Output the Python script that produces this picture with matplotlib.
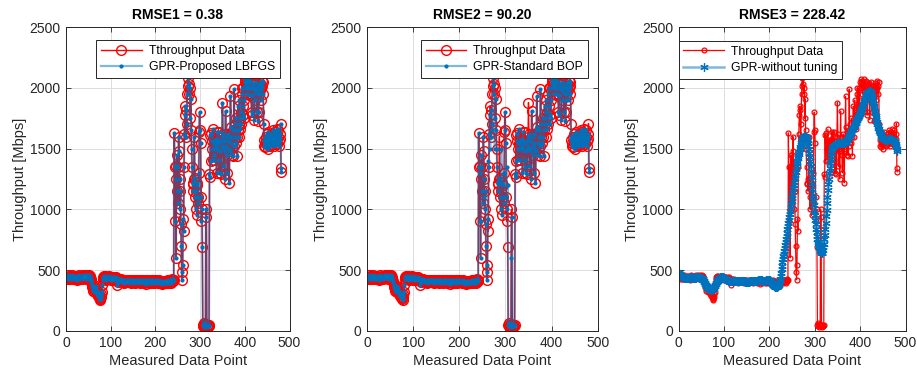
import numpy as np
import matplotlib
matplotlib.use('Agg')
import matplotlib.pyplot as plt

plt.rcParams['font.family'] = ['Liberation Sans', 'DejaVu Sans']

# measured throughput (Mbps), one value per measured data point
throughput = [
    460, 440, 430, 445, 455, 440, 425, 435, 450, 445, 430, 440, 455, 445, 435, 425, 440, 450, 445, 430,
    440, 450, 445, 430, 420, 435, 445, 455, 440, 430, 445, 450, 440, 435, 425, 440, 450, 455, 445, 435,
    440, 450, 460, 445, 430, 440, 455, 450, 440, 430, 445, 455, 450, 440, 425, 410, 400, 380, 360, 345,
    330, 360, 350, 320, 340, 370, 350, 330, 310, 300, 320, 290, 280, 300, 270, 260, 250, 280, 300, 320,
    380, 430, 445, 450, 440, 430, 445, 450, 440, 420, 430, 445, 440, 430, 425, 440, 450, 445, 435, 420,
    430, 440, 445, 435, 420, 430, 440, 425, 415, 430, 440, 435, 420, 410, 380, 400, 425, 430, 420, 410,
    415, 425, 420, 410, 400, 415, 420, 410, 405, 395, 410, 420, 415, 405, 400, 410, 420, 415, 405, 400,
    410, 420, 415, 405, 395, 405, 415, 420, 410, 400, 405, 415, 410, 400, 390, 405, 415, 420, 410, 400,
    405, 415, 410, 400, 395, 410, 420, 415, 405, 400, 410, 415, 405, 395, 400, 410, 420, 410, 400, 385,
    400, 410, 415, 405, 395, 405, 415, 410, 400, 390, 405, 415, 420, 410, 400, 395, 405, 415, 410, 400,
    405, 415, 410, 400, 390, 400, 410, 415, 405, 395, 400, 410, 405, 395, 385, 400, 410, 405, 395, 390,
    400, 410, 405, 395, 390, 400, 410, 420, 415, 405, 395, 410, 420, 415, 400, 395, 410, 430, 420, 410,
    420, 1630, 1350, 900, 1355, 600, 1250, 1450, 1150, 1350, 1050, 1600, 1480, 1250, 1000, 1150, 880, 700, 480, 420,
    540, 920, 820, 1350, 1620, 1780, 1850, 1820, 1600, 1700, 1950, 2020, 2080, 2200, 2030, 1950, 2000, 1750, 1910, 1650,
    1500, 1350, 1220, 1210, 1150, 1250, 1600, 1260, 1100, 1000, 1150, 1220, 950, 1200, 1100, 1050, 1300, 1640, 1800, 1650,
    1550, 1100, 900, 1000, 690, 50, 40, 60, 30, 45, 35, 55, 1000, 940, 40, 30, 50, 40, 35, 45,
    1290, 1270, 1616, 1400, 1630, 1560, 1500, 1410, 1660, 1550, 1450, 1410, 1500, 1560, 1580, 1520, 1300, 1640, 1575, 1550,
    1500, 1640, 1410, 1300, 1480, 1560, 1290, 1520, 1600, 1880, 1620, 1355, 1500, 1560, 1250, 1480, 1810, 1600, 1520, 1450,
    1300, 1560, 1620, 1500, 1220, 1480, 1600, 1930, 1680, 1550, 1450, 1600, 1650, 1440, 1520, 1990, 1700, 1600, 1650, 1550,
    1750, 1600, 1440, 1650, 1850, 1700, 1600, 1900, 1750, 1660, 1800, 1700, 1950, 2000, 1850, 1780, 2000, 1750, 1900, 2050,
    2070, 2000, 2030, 2060, 1950, 2040, 2020, 2070, 2000, 1940, 2050, 2060, 1940, 2000, 1800, 1780, 1940, 2030, 2000, 2040,
    1740, 1900, 1980, 2050, 2000, 1960, 1800, 2000, 2020, 1725, 1800, 1950, 2040, 2000, 1980, 1900, 2000, 2060, 2020, 1950,
    2050, 1700, 1575, 1520, 1550, 1510, 1600, 1560, 1620, 1540, 1500, 1580, 1640, 1560, 1530, 1600, 1520, 1570, 1620, 1580,
    1540, 1600, 1650, 1560, 1520, 1580, 1640, 1600, 1550, 1620, 1660, 1580, 1540, 1600, 1650, 1560, 1520, 1580, 1620, 1707,
    1340, 1310,
]

# GPR with proposed LBFGS tuning (RMSE 0.38): lies on the measured data
gpr_lbfgs = list(throughput)

# GPR with standard BOP: follows the data except at these points
bop_idx = [244, 246, 252, 262, 266, 270, 276, 286, 290, 297, 302, 304, 312,
           322, 330, 341, 349, 361, 366, 378, 386, 396, 409, 430, 441, 479]
bop_val = [1300, 900, 1100, 1400, 1500, 1650, 1500, 1250, 1500, 1300, 1350, 1200, 600,
           1300, 1500, 1350, 1500, 1550, 1650, 1550, 1800, 1700, 1950, 1900, 1600, 1600]
gpr_bop = list(throughput)
for i, v in zip(bop_idx, bop_val):
    gpr_bop[i] = v

# GPR without tuning (RMSE 228.42)
gpr_notune = [
    475, 470, 465, 460, 456, 452, 449, 446, 444, 442, 440, 438, 436, 435, 434, 433, 432, 432, 431, 431,
    431, 432, 433, 434, 436, 438, 440, 441, 441, 440, 438, 436, 434, 433, 433, 434, 436, 438, 440, 441,
    442, 442, 441, 440, 439, 438, 437, 436, 436, 435, 434, 432, 428, 423, 417, 410, 402, 394, 386, 379,
    372, 366, 360, 355, 351, 347, 344, 342, 340, 339, 338, 338, 339, 340, 342, 345, 349, 354, 360, 367,
    375, 383, 391, 399, 406, 413, 419, 424, 429, 433, 437, 440, 442, 443, 443, 442, 441, 439, 437, 434,
    431, 428, 425, 422, 420, 418, 416, 415, 414, 413, 413, 412, 412, 412, 411, 411, 411, 410, 410, 410,
    410, 410, 410, 409, 409, 409, 409, 408, 408, 408, 408, 408, 408, 407, 407, 407, 407, 407, 407, 407,
    406, 406, 406, 406, 406, 406, 405, 405, 405, 405, 405, 405, 405, 405, 405, 405, 406, 406, 406, 407,
    407, 408, 408, 409, 409, 410, 410, 411, 411, 412, 412, 413, 413, 413, 414, 414, 414, 414, 414, 414,
    414, 414, 414, 413, 413, 413, 412, 412, 412, 413, 413, 414, 415, 416, 417, 418, 418, 418, 417, 416,
    414, 411, 407, 402, 396, 390, 384, 378, 373, 369, 365, 362, 360, 359, 358, 358, 359, 361, 365, 371,
    380, 392, 408, 428, 452, 478, 506, 535, 562, 588, 612, 636, 660, 684, 708, 730, 754, 780, 808, 834,
    860, 885, 910, 935, 962, 988, 1014, 1040, 1066, 1092, 1118, 1145, 1172, 1200, 1228, 1256, 1284, 1310, 1335, 1358,
    1380, 1400, 1420, 1440, 1458, 1476, 1494, 1512, 1530, 1546, 1560, 1572, 1582, 1590, 1596, 1600, 1603, 1604, 1603, 1600,
    1595, 1588, 1578, 1564, 1546, 1524, 1498, 1468, 1434, 1396, 1356, 1312, 1266, 1218, 1170, 1122, 1076, 1032, 990, 950,
    912, 876, 842, 810, 782, 756, 732, 712, 694, 678, 665, 654, 646, 641, 640, 643, 652, 668, 690, 718,
    752, 792, 838, 888, 942, 996, 1050, 1104, 1156, 1206, 1254, 1298, 1340, 1378, 1412, 1442, 1468, 1488, 1502, 1512,
    1518, 1522, 1526, 1529, 1532, 1535, 1537, 1539, 1541, 1543, 1544, 1545, 1546, 1547, 1547, 1548, 1548, 1548, 1547, 1547,
    1546, 1546, 1546, 1546, 1547, 1548, 1550, 1553, 1557, 1562, 1568, 1575, 1582, 1590, 1598, 1606, 1614, 1622, 1630, 1638,
    1645, 1652, 1659, 1666, 1673, 1680, 1688, 1696, 1704, 1712, 1720, 1728, 1736, 1744, 1752, 1760, 1768, 1776, 1785, 1794,
    1803, 1813, 1823, 1834, 1845, 1857, 1869, 1881, 1893, 1905, 1916, 1927, 1937, 1946, 1954, 1961, 1966, 1970, 1973, 1975,
    1975, 1972, 1967, 1958, 1946, 1931, 1914, 1895, 1875, 1854, 1833, 1812, 1791, 1771, 1752, 1734, 1717, 1701, 1686, 1672,
    1659, 1647, 1636, 1626, 1617, 1609, 1602, 1596, 1591, 1587, 1583, 1580, 1578, 1576, 1575, 1574, 1574, 1574, 1574, 1575,
    1575, 1576, 1576, 1577, 1577, 1577, 1577, 1577, 1576, 1575, 1573, 1571, 1568, 1564, 1559, 1553, 1545, 1536, 1526, 1514,
    1500, 1484,
]

titles = ['RMSE1 = 0.38', 'RMSE2 = 90.20', 'RMSE3 = 228.42']
data_labels = ['Tthroughput Data', 'Throughput Data', 'Throughput Data']
gpr_labels = ['GPR-Proposed LBFGS', 'GPR-Standard BOP', 'GPR-without tuning']

x = np.arange(1, len(throughput) + 1)
red = '#FF0000'
blue = '#0072BD'
blue_line = (0.0, 0.447, 0.741, 0.5)
dark = '#262626'

fig = plt.figure(figsize=(9.17, 3.74), dpi=100)
W, H = 917.0, 374.0
boxes = [(66, 223.5), (367, 230.7), (678.5, 227)]
axes = []
for left, width in boxes:
    ax = fig.add_axes([left / W, (H - 330.7) / H, width / W, 303.4 / H])
    axes.append(ax)

# panel 1 and 2: big open circles + dotted GPR
for k, gpr in enumerate([gpr_lbfgs, gpr_bop]):
    ax = axes[k]
    ax.plot(x, throughput, '-o', color=red, lw=1.0, ms=7, mfc='none', mec=red, mew=1.0,
            label=data_labels[k])
    ax.plot(x, gpr, '-', color=blue_line, lw=1.6, marker='o', ms=3, mfc=blue, mec=blue,
            mew=0, label=gpr_labels[k])

# panel 3: small circles + asterisks
ax = axes[2]
ax.plot(x, throughput, '-o', color=red, lw=0.9, ms=3.5, mfc='none', mec=red, mew=0.9,
        label=data_labels[2])
ax.plot(x, gpr_notune, '-', color=blue_line, lw=1.8, marker=(6, 2, 0), ms=6, mfc=blue, mec=blue,
        mew=0.9, label=gpr_labels[2])

for k, ax in enumerate(axes):
    ax.set_xlim(0, 500)
    ax.set_ylim(0, 2500)
    ax.set_xticks(np.arange(0, 501, 100))
    ax.set_yticks(np.arange(0, 2501, 500))
    ax.grid(True, color='#DCDCDC', lw=0.7)
    ax.set_axisbelow(True)
    ax.tick_params(direction='in', length=3.5, width=0.6, colors=dark, labelsize=10,
                   top=True, right=True, pad=4)
    for s in ax.spines.values():
        s.set_color(dark)
        s.set_linewidth(0.7)
    ax.set_title(titles[k], fontsize=10, fontweight='bold', color='black', pad=6)
    ax.set_xlabel('Measured Data Point', fontsize=10.5, color=dark, labelpad=3)
    ax.set_ylabel('Throughput [Mbps]', fontsize=10.5, color=dark, labelpad=2)

legend_pos = [('upper right', (0.958, 0.958)), ('upper right', (0.958, 0.958)),
              ('upper left', (0.0, 0.956))]
for k, ax in enumerate(axes):
    loc, anchor = legend_pos[k]
    leg = ax.legend(loc=loc, bbox_to_anchor=anchor, borderaxespad=0, fontsize=8.8,
                    fancybox=False, framealpha=1, edgecolor=dark, handlelength=3.3,
                    borderpad=0.4, labelspacing=0.35, handletextpad=0.6)
    leg.get_frame().set_linewidth(0.7)

fig.savefig('out.png', dpi=100)
